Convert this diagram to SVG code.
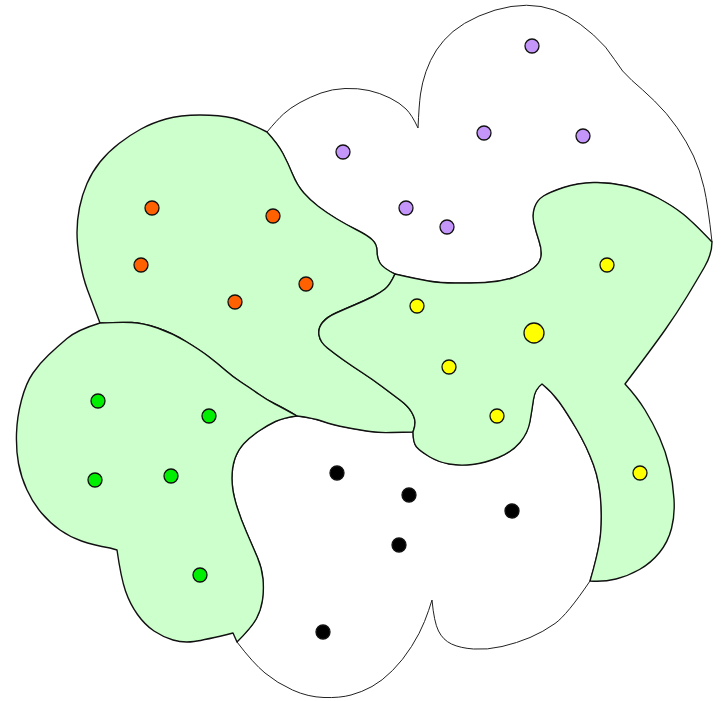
<svg xmlns="http://www.w3.org/2000/svg" width="721" height="701" viewBox="0 0 721 701">
<style>
.white{fill:#ffffff;stroke:#222;stroke-width:1;stroke-linejoin:round}
.green{fill:#ccffcc;stroke:#111;stroke-width:1.4;stroke-linejoin:round}
.dot{stroke:#111;stroke-width:1.3}
.o{fill:#ff6000}.p{fill:#c496fa}.y{fill:#ffff00}.g{fill:#00ee00}.b{fill:#000}
</style>
<rect width="721" height="701" fill="#fff"/>
<g id="purple-region">
<path class="white" d="M267,132 Q278,144 283,153.5 Q288,163 292.5,174 Q297,185 303.5,192.5 Q310,200 318.5,206.5 Q327,213 337,219 Q347,225 357,230 Q367,235 372,239.5 Q377,244 377,251 Q377,258 380,263 Q383,268 395,274 Q417,279 428.5,281 Q440,283 455,283 Q470,283 485,282.5 Q500,282 513.5,277.5 Q527,273 533.5,268 Q540,263 541,256.5 Q542,250 539,241 Q536,232 534,223.5 Q532,215 534.5,207.5 Q537,200 543.5,196 Q550,192 563.5,187.5 Q577,183 593.5,182.5 Q610,182 626.5,186 Q643,190 658,198 Q673,206 683,214 Q693,222 712,242 Q708,205 704,187.5 Q700,170 693.5,156 Q687,142 677,127.5 Q667,113 654.5,101 Q642,89 632,80.5 Q622,72 614.5,59.5 Q607,47 593.5,35 Q580,23 567.5,16 Q555,9 541,6.5 Q527,4 511,6.5 Q495,9 479,16 Q463,23 453,31.5 Q443,40 436.5,50 Q430,60 426,71.5 Q422,83 420.5,94 Q419,105 418,128 Q412,115 406,109 Q400,103 390,98 Q380,93 369,90.5 Q358,88 345,88.5 Q332,89 321,93 Q310,97 300,102.5 Q290,108 283.5,114 Q277,120 267,132 Z"/>
<circle class="dot p" cx="343" cy="152" r="7"/><circle class="dot p" cx="532" cy="46" r="7"/><circle class="dot p" cx="484" cy="133" r="7"/><circle class="dot p" cx="583" cy="136" r="7"/><circle class="dot p" cx="406" cy="208" r="7"/><circle class="dot p" cx="447" cy="227" r="7"/>
</g>
<g id="black-region">
<path class="white" d="M297,416 Q283,418 275.5,421.5 Q268,425 259,431 Q250,437 244,443.5 Q238,450 235,458.5 Q232,467 232,478.5 Q232,490 236,503.5 Q240,517 246.5,532 Q253,547 257.5,557.5 Q262,568 263,579 Q264,590 262.5,600 Q261,610 256.5,618.5 Q252,627 237,642 Q253,663 265,673 Q277,683 292.5,690 Q308,697 324,697.5 Q340,698 351,695 Q362,692 372,686.5 Q382,681 392.5,670.5 Q403,660 411.5,646.5 Q420,633 424.5,621.5 Q429,610 432,600 Q434,622 438.5,631 Q443,640 451.5,644 Q460,648 473.5,649 Q487,650 502,646.5 Q517,643 530,637.5 Q543,632 555,623.5 Q567,615 590,581 Q597,557 599.5,542 Q602,527 601,505 Q600,483 593.5,465 Q587,447 577,430 Q567,413 559.5,402.5 Q552,392 542,384 Q535,389 533.5,399.5 Q532,410 530,421.5 Q528,433 520,442.5 Q512,452 498.5,457.5 Q485,463 472.5,464.5 Q460,466 449,464 Q438,462 429,456.5 Q420,451 416.5,447 Q413,443 413,432 Q403,432 391.5,432.5 Q380,433 370,431.5 Q360,430 346.5,427.5 Q333,425 323,421.5 Q313,418 297,416 Z"/>
<circle class="dot b" cx="337" cy="473" r="7"/><circle class="dot b" cx="323" cy="632" r="7"/><circle class="dot b" cx="409" cy="495" r="7"/><circle class="dot b" cx="512" cy="511" r="7"/><circle class="dot b" cx="399" cy="545" r="7"/>
</g>
<g id="orange-region">
<path class="green" d="M100,323 Q92,302 87.5,290 Q83,278 80,261.5 Q77,245 77,232.5 Q77,220 79.5,207.5 Q82,195 87,183.5 Q92,172 100,162 Q108,152 119,143.5 Q130,135 141,129 Q152,123 166,119 Q180,115 200,115 Q220,115 232.5,118 Q245,121 267,132 Q278,144 283,153.5 Q288,163 292.5,174 Q297,185 303.5,192.5 Q310,200 318.5,206.5 Q327,213 337,219 Q347,225 357,230 Q367,235 372,239.5 Q377,244 377,251 Q377,258 380,263 Q383,268 395,274 Q390,285 385,289 Q380,293 373,296.5 Q366,300 355.5,304.5 Q345,309 336,313 Q327,317 322.5,322.5 Q318,328 319,335 Q320,342 327.5,348 Q335,354 343.5,360 Q352,366 362,372.5 Q372,379 382,386.5 Q392,394 400,400 Q408,406 411.5,412 Q415,418 415,422.5 Q415,427 413,432 Q403,432 391.5,432.5 Q380,433 370,431.5 Q360,430 346.5,427.5 Q333,425 323,421.5 Q313,418 297,416 Q283,408 275,404 Q267,400 258.5,394 Q250,388 241.5,382.5 Q233,377 225,370 Q217,363 208.5,356.5 Q200,350 186,341.5 Q172,333 157.5,328 Q143,323 131.5,322.5 Q120,322 100,323 Z"/>
<circle class="dot o" cx="152" cy="208" r="7"/><circle class="dot o" cx="273" cy="216" r="7"/><circle class="dot o" cx="141" cy="265" r="7"/><circle class="dot o" cx="306" cy="284" r="7"/><circle class="dot o" cx="235" cy="302" r="7"/>
</g>
<g id="yellow-region">
<path class="green" d="M395,274 Q417,279 428.5,281 Q440,283 455,283 Q470,283 485,282.5 Q500,282 513.5,277.5 Q527,273 533.5,268 Q540,263 541,256.5 Q542,250 539,241 Q536,232 534,223.5 Q532,215 534.5,207.5 Q537,200 543.5,196 Q550,192 563.5,187.5 Q577,183 593.5,182.5 Q610,182 626.5,186 Q643,190 658,198 Q673,206 683,214 Q693,222 712,242 Q712,254 704.5,267 Q697,280 687,296.5 Q677,313 665,330 Q653,347 625,384 Q637,397 645,410 Q653,423 659.5,437.5 Q666,452 669.5,467.5 Q673,483 674,499 Q675,515 671.5,528.5 Q668,542 659.5,552.5 Q651,563 639.5,569.5 Q628,576 616,579 Q604,582 590,581 Q597,557 599.5,542 Q602,527 601,505 Q600,483 593.5,465 Q587,447 577,430 Q567,413 559.5,402.5 Q552,392 542,384 Q535,389 533.5,399.5 Q532,410 530,421.5 Q528,433 520,442.5 Q512,452 498.5,457.5 Q485,463 472.5,464.5 Q460,466 449,464 Q438,462 429,456.5 Q420,451 416.5,447 Q413,443 413,432 Q415,427 415,422.5 Q415,418 411.5,412 Q408,406 400,400 Q392,394 382,386.5 Q372,379 362,372.5 Q352,366 343.5,360 Q335,354 327.5,348 Q320,342 319,335 Q318,328 322.5,322.5 Q327,317 336,313 Q345,309 355.5,304.5 Q366,300 373,296.5 Q380,293 385,289 Q390,285 395,274 Z"/>
<circle class="dot y" cx="607" cy="265" r="7"/><circle class="dot y" cx="417" cy="306" r="7"/><circle class="dot y" cx="534" cy="333" r="10"/><circle class="dot y" cx="449" cy="367" r="7"/><circle class="dot y" cx="497" cy="416" r="7"/><circle class="dot y" cx="640" cy="473" r="7"/>
</g>
<g id="green-region">
<path class="green" d="M297,416 Q283,418 275.5,421.5 Q268,425 259,431 Q250,437 244,443.5 Q238,450 235,458.5 Q232,467 232,478.5 Q232,490 236,503.5 Q240,517 246.5,532 Q253,547 257.5,557.5 Q262,568 263,579 Q264,590 262.5,600 Q261,610 256.5,618.5 Q252,627 237,642 L233,633 Q205,640 194,641.5 Q183,643 173,640 Q163,637 154,631 Q145,625 137.5,614.5 Q130,604 125.5,591 Q121,578 117,550 L110,548 Q93,545 81.5,541 Q70,537 60,530 Q50,523 41.5,513 Q33,503 27,490 Q21,477 18.5,463.5 Q16,450 16.5,433.5 Q17,417 21.5,400 Q26,383 33,373 Q40,363 48.5,355 Q57,347 67,338.5 Q77,330 100,323 Q120,322 131.5,322.5 Q143,323 157.5,328 Q172,333 186,341.5 Q200,350 208.5,356.5 Q217,363 225,370 Q233,377 241.5,382.5 Q250,388 258.5,394 Q267,400 275,404 Q283,408 297,416 Z"/>
<circle class="dot g" cx="98" cy="401" r="7"/><circle class="dot g" cx="209" cy="416" r="7"/><circle class="dot g" cx="95" cy="480" r="7"/><circle class="dot g" cx="171" cy="476" r="7"/><circle class="dot g" cx="200" cy="575" r="7"/>
</g>
<g id="connectors"/>
</svg>
